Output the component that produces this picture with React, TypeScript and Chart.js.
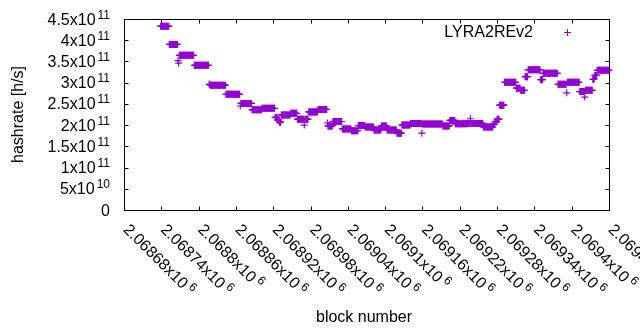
import React, { useEffect, useRef } from 'react';
import { Chart, registerables } from 'chart.js';

Chart.register(...registerables);

// ---- data: runs of consecutive blocks sharing one hashrate estimate ----
const SERIES_LABEL = 'LYRA2REv2';
const runStart = [
  2068739, 2068753, 2068767, 2068768, 2068769, 2068793, 2068817, 2068819, 2068844, 2068867,
  2068868, 2068886, 2068902, 2068923, 2068927, 2068930, 2068933, 2068948, 2068959, 2068970,
  2068971, 2068977, 2068992, 2069007, 2069008, 2069016, 2069031, 2069046, 2069057, 2069068,
  2069082, 2069094, 2069103, 2069119, 2069127, 2069141, 2069159, 2069160, 2069193, 2069204,
  2069213, 2069232, 2069237, 2069238, 2069258, 2069274, 2069277, 2069280, 2069284, 2069292,
  2069311, 2069318, 2069325, 2069330, 2069350, 2069354, 2069378, 2069392, 2069393, 2069413,
  2069421, 2069422, 2069434, 2069437, 2069441,
];
const runEnd = [
  2068752, 2068766, 2068767, 2068768, 2068792, 2068816, 2068818, 2068843, 2068866, 2068867,
  2068885, 2068901, 2068922, 2068926, 2068929, 2068932, 2068947, 2068958, 2068969, 2068970,
  2068976, 2068991, 2069006, 2069007, 2069015, 2069030, 2069045, 2069056, 2069067, 2069081,
  2069093, 2069102, 2069118, 2069126, 2069140, 2069158, 2069159, 2069192, 2069203, 2069212,
  2069231, 2069236, 2069237, 2069257, 2069273, 2069276, 2069279, 2069283, 2069291, 2069310,
  2069317, 2069324, 2069329, 2069349, 2069353, 2069377, 2069391, 2069392, 2069412, 2069420,
  2069421, 2069433, 2069436, 2069440, 2069460,
];
const runHashrate = [
  4.33e11, 3.90e11, 3.52e11, 3.46e11, 3.645e11, 3.41e11, 2.96e11, 2.94e11, 2.725e11, 2.45e11,
  2.51e11, 2.36e11, 2.395e11, 2.18e11, 2.12e11, 2.07e11, 2.24e11, 2.28e11, 2.14e11, 2.0e11,
  2.14e11, 2.31e11, 2.37e11, 2.05e11, 1.98e11, 2.085e11, 1.91e11, 1.87e11, 1.99e11, 1.955e11,
  1.885e11, 1.98e11, 1.885e11, 1.81e11, 2.0e11, 2.04e11, 1.81e11, 2.025e11, 1.98e11, 2.11e11,
  2.03e11, 2.04e11, 2.15e11, 2.04e11, 1.955e11, 2.02e11, 2.08e11, 2.14e11, 2.47e11, 3.01e11,
  2.87e11, 2.82e11, 3.14e11, 3.305e11, 3.07e11, 3.22e11, 2.96e11, 2.76e11, 3.01e11, 2.79e11,
  2.66e11, 2.82e11, 3.08e11, 3.17e11, 3.29e11,
];

const xTickValues = [
  2068680, 2068740, 2068800, 2068860, 2068920, 2068980, 2069040,
  2069100, 2069160, 2069220, 2069280, 2069340, 2069400, 2069460,
];
const xTickMantissas = [
  '2.06868x10', '2.06874x10', '2.0688x10', '2.06886x10', '2.06892x10', '2.06898x10', '2.06904x10',
  '2.0691x10', '2.06916x10', '2.06922x10', '2.06928x10', '2.06934x10', '2.0694x10', '2.06946x10',
];
const xTickExponents = ['6', '6', '6', '6', '6', '6', '6', '6', '6', '6', '6', '6', '6', '6'];

const yTickValues = [0, 5e10, 1e11, 1.5e11, 2e11, 2.5e11, 3e11, 3.5e11, 4e11, 4.5e11];
const yTickMantissas = ['0', '5x10', '1x10', '1.5x10', '2x10', '2.5x10', '3x10', '3.5x10', '4x10', '4.5x10'];
const yTickExponents = ['', '10', '11', '11', '11', '11', '11', '11', '11', '11'];

const X_TITLE = 'block number';
const Y_TITLE = 'hashrate [h/s]';

const COLOR = '#9400d3';
const FONT_FAMILY = '"Liberation Sans", Arial, Helvetica, sans-serif';
const MAIN_FONT = `16px ${FONT_FAMILY}`;
const SUP_FONT = `12px ${FONT_FAMILY}`;

const gnuplotFrame = {
  id: 'gnuplotFrame',
  beforeDatasetsDraw(chart: any) {
    const { ctx, chartArea: a, scales } = chart;
    const xs = scales.x;
    const ys = scales.y;
    const L = Math.round(a.left) + 0.5;
    const R = Math.round(a.right) + 0.5;
    const T = Math.round(a.top) + 0.5;
    const B = Math.round(a.bottom) + 0.5;
    ctx.save();
    ctx.strokeStyle = '#000';
    ctx.lineWidth = 1;
    ctx.beginPath();
    ctx.rect(L, T, R - L, B - T);
    const tl = 4;
    xTickValues.forEach((v) => {
      const px = Math.round(xs.getPixelForValue(v)) + 0.5;
      ctx.moveTo(px, B);
      ctx.lineTo(px, B - tl);
      ctx.moveTo(px, T);
      ctx.lineTo(px, T + tl);
    });
    yTickValues.forEach((v) => {
      const py = Math.round(ys.getPixelForValue(v)) + 0.5;
      ctx.moveTo(L, py);
      ctx.lineTo(L + tl, py);
      ctx.moveTo(R, py);
      ctx.lineTo(R - tl, py);
    });
    ctx.stroke();
    ctx.restore();
  },
  afterDraw(chart: any) {
    const { ctx, chartArea: a, scales } = chart;
    const xs = scales.x;
    const ys = scales.y;
    ctx.save();
    ctx.fillStyle = '#000';

    // y tick labels
    yTickValues.forEach((v, i) => {
      const py = ys.getPixelForValue(v);
      const m = yTickMantissas[i];
      const e = yTickExponents[i];
      const rightEdge = 110;
      ctx.textBaseline = 'alphabetic';
      ctx.textAlign = 'right';
      if (!e) {
        ctx.font = MAIN_FONT;
        ctx.fillText(m, rightEdge, py + 5.5);
      } else {
        ctx.font = SUP_FONT;
        const ew = ctx.measureText(e).width;
        ctx.fillText(e, rightEdge, py - 0.5);
        ctx.font = MAIN_FONT;
        ctx.fillText(m, rightEdge - ew - 2, py + 5.5);
      }
    });

    // x tick labels rotated
    xTickValues.forEach((v, i) => {
      const px = xs.getPixelForValue(v);
      ctx.save();
      ctx.translate(px + 2.5, 226.5);
      ctx.rotate(Math.PI / 4);
      ctx.textAlign = 'left';
      ctx.textBaseline = 'alphabetic';
      ctx.font = MAIN_FONT;
      const m = xTickMantissas[i];
      ctx.fillText(m, 0, 5.5);
      const mw = ctx.measureText(m).width;
      ctx.font = SUP_FONT;
      ctx.fillText(xTickExponents[i], mw + 3, -0.5);
      ctx.restore();
    });

    // axis titles
    ctx.font = MAIN_FONT;
    ctx.textAlign = 'center';
    ctx.textBaseline = 'alphabetic';
    ctx.fillText(X_TITLE, 364, 322);
    ctx.save();
    ctx.translate(23, (a.top + a.bottom) / 2);
    ctx.rotate(-Math.PI / 2);
    ctx.fillText(Y_TITLE, 0, 0);
    ctx.restore();

    // legend
    ctx.textAlign = 'right';
    ctx.fillText(SERIES_LABEL, 533, 37);
    ctx.strokeStyle = COLOR;
    ctx.lineWidth = 1;
    ctx.beginPath();
    ctx.moveTo(564, 32.5);
    ctx.lineTo(571, 32.5);
    ctx.moveTo(567.5, 29);
    ctx.lineTo(567.5, 36);
    ctx.stroke();
    ctx.restore();
  },
};

export default function App() {
  const canvasRef = useRef<HTMLCanvasElement | null>(null);

  useEffect(() => {
    const canvas = canvasRef.current;
    if (!canvas) return;
    const points: { x: number; y: number }[] = [];
    runStart.forEach((s, i) => {
      for (let b = s; b <= runEnd[i]; b++) points.push({ x: b, y: runHashrate[i] });
    });

    const chart = new Chart(canvas, {
      type: 'scatter',
      data: {
        datasets: [
          {
            label: SERIES_LABEL,
            data: points,
            pointStyle: 'cross',
            pointRadius: 3.5,
            pointBorderWidth: 1.2,
            borderColor: COLOR,
            backgroundColor: COLOR,
            showLine: false,
            clip: false as any,
          },
        ],
      },
      options: {
        responsive: false,
        animation: false,
        devicePixelRatio: 1,
        events: [],
        layout: { padding: { left: 124, right: 31, top: 19, bottom: 120 } },
        plugins: { legend: { display: false }, tooltip: { enabled: false }, title: { display: false } },
        scales: {
          x: { type: 'linear', display: false, min: 2068680, max: 2069460 },
          y: { type: 'linear', display: false, min: 0, max: 4.5e11 },
        },
      },
      plugins: [gnuplotFrame],
    });
    return () => chart.destroy();
  }, []);

  return (
    <div style={{ position: 'absolute', left: 0, top: 0, width: 640, height: 330, background: '#fff' }}>
      <canvas ref={canvasRef} width={640} height={330} style={{ width: 640, height: 330, display: 'block' }} />
    </div>
  );
}
